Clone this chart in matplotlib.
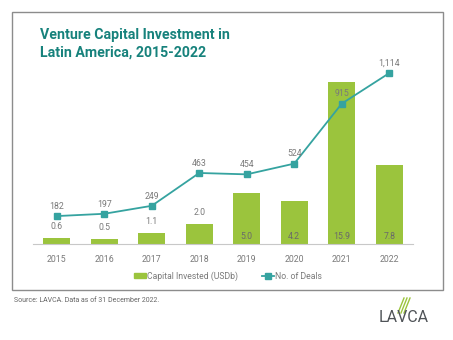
import matplotlib
matplotlib.use("Agg")
import matplotlib.pyplot as plt
from matplotlib.patches import Rectangle
from matplotlib.lines import Line2D
import numpy as np

years = ["2015", "2016", "2017", "2018", "2019", "2020", "2021", "2022"]
capital = [0.6, 0.5, 1.1, 2.0, 5.0, 4.2, 15.9, 7.8]
capital_labels = ["0.6", "0.5", "1.1", "2.0", "5.0", "4.2", "15.9", "7.8"]
deals = [182, 197, 249, 463, 454, 524, 915, 1114]
deal_labels = ["182", "197", "249", "463", "454", "524", "915", "1,114"]

GREEN = "#9bc43d"
TEAL = "#35a3a0"
TITLE = "#17827c"
GRAY = "#7a7a7a"

plt.rcParams['font.family'] = ['Roboto', 'DejaVu Sans']

fig = plt.figure(figsize=(4.53, 3.4), dpi=100)
W, H = 453, 340

def fx(px):
    return px / W

def fy(py):
    return 1 - py / H

# frame
fig.patches.append(Rectangle((fx(11.5), fy(290)), fx(442.5) - fx(11.5), fy(11.5) - fy(290),
                             transform=fig.transFigure, fill=False, edgecolor="#8c8c8c", lw=1.0))

fig.text(fx(40), fy(35), "Venture Capital Investment in", color=TITLE, fontsize=10.2,
         fontweight="bold", va="center", ha="left")
fig.text(fx(40), fy(53), "Latin America, 2015-2022", color=TITLE, fontsize=10.2,
         fontweight="bold", va="center", ha="left")

ax = fig.add_axes([fx(33), fy(244), fx(413) - fx(33), fy(60) - fy(244)])
x = np.arange(len(years))
ax.bar(x, capital, width=0.56, color=GREEN, zorder=1)
ax.set_xlim(-0.5, len(years) - 0.5)
top_px = 244 - 60
ax.set_ylim(0, top_px / 10.19)
for s in ax.spines.values():
    s.set_visible(False)
ax.spines['bottom'].set_visible(True)
ax.spines['bottom'].set_color("#c8c8c8")
ax.spines['bottom'].set_linewidth(0.8)
ax.set_yticks([])
ax.set_xticks(x)
ax.set_xticklabels(years, color=GRAY, fontsize=6.3)
ax.tick_params(axis='x', length=0, pad=8)

for i, (v, lab) in enumerate(zip(capital, capital_labels)):
    if v < 3:
        ax.annotate(lab, (i, v), xytext=(0, 8), textcoords="offset points", ha="center",
                    va="center", fontsize=6.3, color=GRAY)
    else:
        ax.annotate(lab, (i, 0), xytext=(0, 5.5), textcoords="offset points", ha="center",
                    va="center", fontsize=6.3, color="#6a6a6a")

ax2 = ax.twinx()
ax2.plot(x, deals, color=TEAL, lw=1.3, marker="s", markersize=5, zorder=3)
ax2.set_ylim(0, top_px / 0.1534)
ax2.set_yticks([])
for s in ax2.spines.values():
    s.set_visible(False)
for i, (v, lab) in enumerate(zip(deals, deal_labels)):
    ax2.annotate(lab, (i, v), xytext=(0, 7), textcoords="offset points", ha="center",
                 va="center", fontsize=6.3, color=GRAY)

handles = [Rectangle((0, 0), 1, 1, color=GREEN),
           Line2D([0], [0], color=TEAL, lw=1.3, marker="s", markersize=4)]
fig.legend(handles, ["Capital Invested (USDb)", "No. of Deals"], loc="center",
           bbox_to_anchor=(fx(228), fy(276)), ncol=2, frameon=False, fontsize=6.2,
           labelcolor=GRAY, handlelength=1.4, handletextpad=0.15, columnspacing=2.8,
           handleheight=0.6)

fig.text(fx(14), fy(301), "Source: LAVCA. Data as of 31 December 2022.", fontsize=5,
         color="#666666", va="center", ha="left")

# logo
fig.text(fx(404), fy(318), "LAVCA", fontsize=11.5, color="#505458", ha="center", va="center",
         fontweight="normal")
for k in range(3):
    x0 = 398 + k * 3
    fig.add_artist(Line2D([fx(x0), fx(x0 + 6)], [fy(313), fy(298)], color=GREEN, lw=1.0,
                          transform=fig.transFigure))

fig.savefig("out.png", dpi=100)
